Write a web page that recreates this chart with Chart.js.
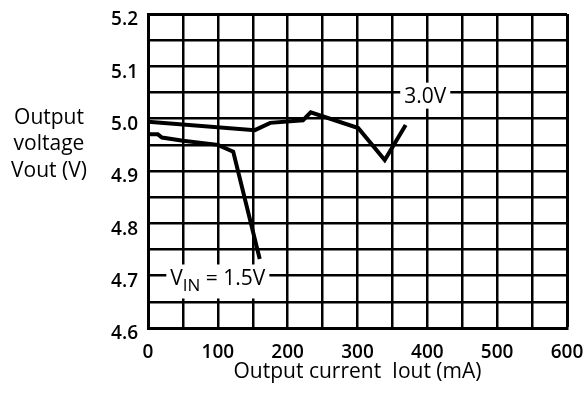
<!DOCTYPE html>
<html><head><meta charset="utf-8">
<script src="https://cdn.jsdelivr.net/npm/chart.js@4"></script>
<style>html,body{margin:0;padding:0;background:#fff}</style>
</head><body>
<canvas id="c" width="587" height="394"></canvas>
<script>
// ---- data ----
const iout30 = [0, 153, 175, 222, 233, 301, 339, 369];
const vout30 = [4.994, 4.978, 4.992, 4.997, 5.012, 4.982, 4.921, 4.988];
const iout15 = [0, 14, 20, 50, 100, 122, 160];
const vout15 = [4.970, 4.970, 4.964, 4.958, 4.950, 4.937, 4.732];
const xTitle = 'Output current  Iout (mA)';
const yTitleLines = ['Output', 'voltage', 'Vout (V)'];
// curve annotations: [main text, subscript, trailing text], anchored in data units
const label30 = { parts: ['3.0V', '', ''], x: 397, y: 5.044 };
const label15 = { parts: ['V', 'IN', ' = 1.5V'], x: 100, y: 4.6965 };

const FONT = "'Open Sans', 'DejaVu Sans', sans-serif";

function pts(xs, ys) { return xs.map((x, i) => ({ x: x, y: ys[i] })); }

const annot = {
  id: 'annot',
  beforeDatasetsDraw(chart) {
    const ctx = chart.ctx;
    const xs = chart.scales.x, ys = chart.scales.y;
    [label30, label15].forEach(l => {
      const cx = xs.getPixelForValue(l.x), cy = ys.getPixelForValue(l.y);
      const mainF = '21px ' + FONT, subF = '17px ' + FONT;
      ctx.save();
      ctx.font = mainF; const w1 = ctx.measureText(l.parts[0]).width;
      ctx.font = subF; const w2 = l.parts[1] ? ctx.measureText(l.parts[1]).width : 0;
      ctx.font = mainF; const w3 = l.parts[2] ? ctx.measureText(l.parts[2]).width : 0;
      const tw = w1 + w2 + w3;
      const base = cy + 0.714 * 21 / 2;
      const x0 = cx - tw / 2;
      ctx.fillStyle = '#fff';
      ctx.fillRect(x0 - 4, cy - 13, tw + 8, l.parts[1] ? 34 : 26);
      ctx.fillStyle = '#000';
      ctx.textBaseline = 'alphabetic';
      ctx.textAlign = 'left';
      ctx.font = mainF; ctx.fillText(l.parts[0], x0, base);
      if (l.parts[1]) { ctx.font = subF; ctx.fillText(l.parts[1], x0 + w1, base + 6); }
      if (l.parts[2]) { ctx.font = mainF; ctx.fillText(l.parts[2], x0 + w1 + w2, base); }
      ctx.restore();
    });
  },
  afterDraw(chart) {
    const ctx = chart.ctx;
    ctx.save();
    ctx.font = '21px ' + FONT;
    ctx.fillStyle = '#000';
    ctx.textAlign = 'center';
    ctx.textBaseline = 'middle';
    yTitleLines.forEach((t, i) => ctx.fillText(t, 49, 118 + i * 26.5));
    ctx.restore();
  }
};

new Chart(document.getElementById('c'), {
  type: 'scatter',
  data: {
    datasets: [
      { data: pts(iout30, vout30), showLine: true, borderColor: '#000', borderWidth: 4, pointRadius: 0, fill: false },
      { data: pts(iout15, vout15), showLine: true, borderColor: '#000', borderWidth: 4, pointRadius: 0, fill: false }
    ]
  },
  options: {
    responsive: false,
    animation: false,
    devicePixelRatio: 1,
    layout: { padding: { top: 14, right: 20, left: 0, bottom: 0 } },
    plugins: { legend: { display: false }, tooltip: { enabled: false } },
    scales: {
      x: {
        type: 'linear', min: 0, max: 600,
        afterFit: s => { s.height = 66; s.paddingLeft = 0; s.paddingRight = 0; },
        border: { display: true, color: '#000', width: 3 },
        grid: { color: '#000', drawTicks: false,
          lineWidth: c => (c.tick && c.tick.value === 600) ? 3 : 2.5 },
        ticks: { stepSize: 50, autoSkip: false, maxRotation: 0, padding: 13, color: '#000',
          font: { family: FONT, size: 19, weight: '600' },
          callback: v => (v % 100 === 0 ? String(v) : '') },
        title: { display: true, text: xTitle, color: '#000',
          font: { family: FONT, size: 21 }, padding: { top: 0, bottom: 9 } }
      },
      y: {
        type: 'linear', min: 4.6, max: 5.2,
        afterFit: s => { s.width = 148; s.paddingTop = 0; s.paddingBottom = 0; },
        border: { display: true, color: '#000', width: 3 },
        grid: { color: '#000', drawTicks: false,
          lineWidth: c => (c.tick && Math.abs(c.tick.value - 5.2) < 1e-6) ? 3 : 2.5 },
        ticks: { stepSize: 0.05, autoSkip: false, padding: 10, labelOffset: 6, color: '#000',
          font: { family: FONT, size: 19, weight: '600' },
          callback: v => (Math.abs(Math.round(v * 10) - v * 10) < 1e-6 ? v.toFixed(1) : '') }
      }
    }
  },
  plugins: [annot]
});
</script>
</body></html>
